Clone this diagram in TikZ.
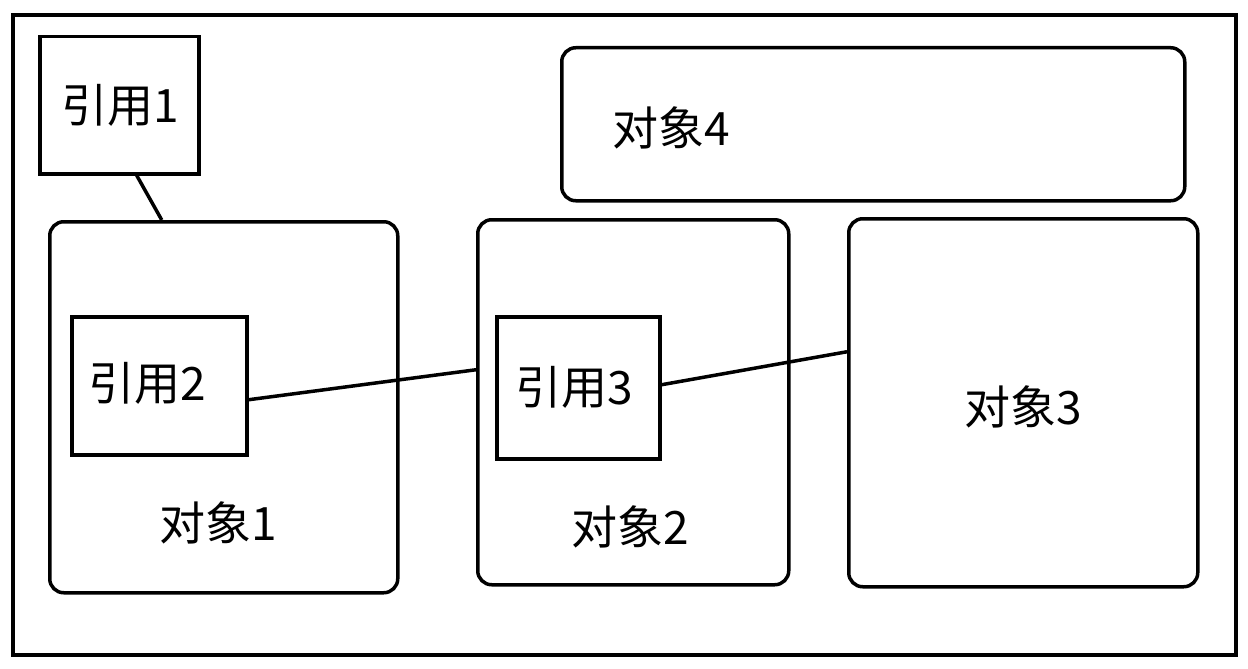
\documentclass[tikz,border=0pt]{standalone}
\usepackage{fontspec}
\setmainfont{Noto Sans CJK SC}
\begin{document}
\begin{tikzpicture}[x=1pt,y=-1pt,
  box/.style={draw,line width=3.5pt,inner sep=0pt,anchor=north west},
  rbox/.style={box,rounded corners=14pt},
  lbl/.style={inner sep=0pt,font=\fontsize{46}{48}\selectfont},
  link/.style={line width=3.5pt}]
\useasboundingbox (0,0) rectangle (1248,669);
\draw[line width=4pt] (13,15) rectangle (1236,655);
% boxes
\node[box,minimum width=159pt,minimum height=137pt] (r1) at (38,35) {};
\node[rbox,minimum width=348pt,minimum height=371pt] (o1) at (48,220) {};
\node[box,minimum width=175pt,minimum height=138pt] (r2) at (70,315) {};
\node[rbox,minimum width=311pt,minimum height=365pt] (o2) at (476,218) {};
\node[box,minimum width=163pt,minimum height=142pt] (r3) at (495,315) {};
\node[rbox,minimum width=349pt,minimum height=368pt] (o3) at (847,217) {};
\node[rbox,minimum width=623pt,minimum height=153pt] (o4) at (560,46) {};
% labels
\node[lbl] (t1) at (120,105) {引用1};
\node[lbl] (t2) at (147,383) {引用2};
\node[lbl] (t3) at (574,387) {引用3};
\node[lbl] (u1) at (218,523) {对象1};
\node[lbl] (u2) at (630,527) {对象2};
\node[lbl] (u3) at (1023,407) {对象3};
\node[lbl] (u4) at (671,128) {对象4};
% connectors
\draw[link] ([xshift=17.5pt]r1.south) -- ([xshift=-62pt]o1.north);
\draw[link] ([yshift=-14pt]r2.east) -- ([yshift=32.5pt]o2.west);
\draw[link] ([yshift=3pt]r3.east) -- ([yshift=51pt]o3.west);
\end{tikzpicture}
\end{document}
